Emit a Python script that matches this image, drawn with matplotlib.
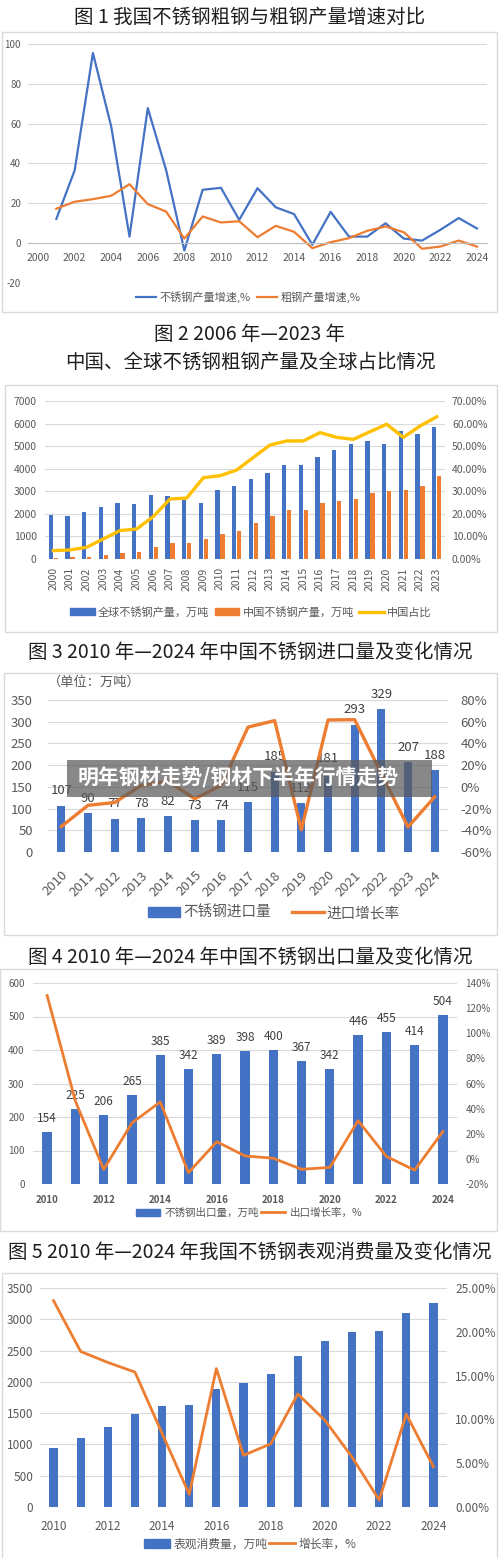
import matplotlib
matplotlib.use('Agg')
import matplotlib.pyplot as plt
from matplotlib.patches import Rectangle, Patch
from matplotlib.lines import Line2D
from matplotlib.ticker import FuncFormatter

plt.rcParams['font.family'] = ['Noto Sans CJK SC', 'DejaVu Sans']
plt.rcParams['axes.unicode_minus'] = False

# ---------------- data ----------------
years1 = list(range(2001, 2025))
ss_growth = [12.2, 36.5, 95.5, 58.6, 3.3, 67.8, 36.8, -3.7, 26.8, 27.8, 11.7, 27.6,
             18.0, 14.6, -0.8, 15.7, 3.3, 3.3, 10.0, 2.3, 1.3, 6.7, 12.6, 7.4]
crude_growth = [17.3, 20.8, 22.1, 23.8, 29.6, 19.6, 15.9, 2.3, 13.4, 10.4, 11.0, 3.0,
                8.7, 5.7, -2.5, 0.5, 2.5, 6.2, 8.4, 5.5, -2.8, -1.7, 1.3, -1.7]

years2 = [str(y) for y in range(2000, 2024)]
global_prod = [1950, 1905, 2068, 2290, 2467, 2422, 2836, 2792, 2614, 2467, 3058, 3235,
               3545, 3811, 4165, 4165, 4505, 4815, 5096, 5229, 5096, 5672, 5539, 5849]
china_prod = [60, 73, 107, 178, 270, 310, 530, 720, 700, 880, 1126, 1250,
              1600, 1900, 2169, 2156, 2494, 2577, 2671, 2940, 3014, 3063, 3240, 3667]
china_share = [3.7, 4.0, 5.2, 8.9, 12.6, 13.3, 18.8, 26.6, 27.0, 36.0, 36.9, 39.4,
               45.0, 50.5, 52.3, 52.3, 56.0, 53.9, 53.0, 56.4, 59.7, 53.9, 58.9, 63.0]

years3 = [str(y) for y in range(2010, 2025)]
imports = [107, 90, 77, 78, 82, 73, 74, 115, 185, 112, 181, 293, 329, 207, 188]
import_growth = [-36.5, -17.0, -14.4, 1.3, 5.1, -11.0, 1.4, 55.0, 61.0, -39.5, 61.6,
                 61.9, 12.3, -37.0, -9.2]

years4 = list(range(2010, 2025))
exports = [154, 225, 206, 265, 385, 342, 389, 398, 400, 367, 342, 446, 455, 414, 504]
export_growth = [130.0, 46.0, -8.4, 28.6, 45.3, -11.0, 13.7, 2.3, 0.5, -8.3, -6.8,
                 30.4, 2.0, -9.0, 21.7]

years5 = list(range(2010, 2025))
consumption = [935, 1101, 1283, 1486, 1614, 1630, 1881, 1988, 2133, 2410, 2656, 2790,
               2817, 3105, 3266]
consumption_growth = [23.55, 17.75, 16.5, 15.4, 8.4, 1.45, 15.8, 5.9, 7.2, 12.9, 9.9,
                      5.7, 0.8, 10.6, 4.6]

titles = ['图 1 我国不锈钢粗钢与粗钢产量增速对比',
          '图 2 2006 年—2023 年',
          '中国、全球不锈钢粗钢产量及全球占比情况',
          '图 3 2010 年—2024 年中国不锈钢进口量及变化情况',
          '图 4 2010 年—2024 年中国不锈钢出口量及变化情况',
          '图 5 2010 年—2024 年我国不锈钢表观消费量及变化情况']

# ---------------- style ----------------
W, H = 500, 1558
BLUE = '#4472C4'
ORANGE = '#ED7D31'
YELLOW = '#FFC000'
GRID = '#D9D9D9'
TXT = '#595959'

fig = plt.figure(figsize=(W / 100, H / 100), dpi=100)
fig.patch.set_facecolor('white')


def fx(x):
    return x / W


def fy(y):
    return 1 - y / H


def px_axes(l, t, r, b):
    return fig.add_axes([l / W, 1 - b / H, (r - l) / W, (b - t) / H])


def panel(l, t, r, b):
    fig.add_artist(Rectangle((fx(l), fy(b)), (r - l) / W, (b - t) / H,
                             transform=fig.transFigure, fill=False,
                             edgecolor='#DADADA', lw=1.0, zorder=-5))


def title(y, s, size=14):
    fig.text(0.5, fy(y), s, ha='center', va='center', fontsize=size, color='#1e1e1e')


def style(ax, grid=True):
    ax.set_facecolor('none')
    for s in ax.spines.values():
        s.set_visible(False)
    ax.tick_params(length=0, colors=TXT)
    if grid:
        ax.grid(axis='y', color=GRID, lw=0.8)
    ax.set_axisbelow(True)


# ---------------- panels & titles ----------------
panel(2, 32, 497, 312)
panel(5, 385, 497, 632)
panel(4, 673, 497, 935)
panel(0, 969, 497, 1231)
panel(2, 1273, 497, 1570)

title(17, titles[0])
title(335, titles[1])
title(362, titles[2])
title(652, titles[3])
title(957, titles[4])
title(1252, titles[5])

# ---------------- chart 1 ----------------
ax1 = px_axes(28, 44, 487, 283)
style(ax1)
ax1.plot(years1, ss_growth, color=BLUE, lw=1.6)
ax1.plot(years1, crude_growth, color=ORANGE, lw=1.6)
ax1.set_ylim(-20, 100)
ax1.set_yticks(range(-20, 101, 20))
ax1.set_xlim(1999.45, 2024.55)
ax1.set_xticks(range(2000, 2025, 2))
ax1.spines['bottom'].set_visible(True)
ax1.spines['bottom'].set_position(('data', 0))
ax1.spines['bottom'].set_color('#BFBFBF')
ax1.tick_params(axis='y', labelsize=7, pad=5)
ax1.tick_params(axis='x', labelsize=7.5, pad=7)
ax1.legend(handles=[Line2D([], [], color=BLUE, lw=1.6), Line2D([], [], color=ORANGE, lw=1.6)],
           labels=['不锈钢产量增速,%', '粗钢产量增速,%'], ncol=2, frameon=False,
           loc='center', bbox_to_anchor=(fx(248), fy(297)), bbox_transform=fig.transFigure,
           fontsize=8, labelcolor=TXT, handlelength=1.8, handletextpad=0.3, columnspacing=0.6)

# ---------------- chart 2 ----------------
ax2 = px_axes(45, 401, 445, 559)
style(ax2)
x2 = list(range(len(years2)))
ax2.bar([i - 0.15 for i in x2], global_prod, width=0.26, color=BLUE)
ax2.bar([i + 0.15 for i in x2], china_prod, width=0.26, color=ORANGE)
ax2.set_xlim(-0.5, len(years2) - 0.5)
ax2.set_ylim(0, 7000)
ax2.set_yticks(range(0, 7001, 1000))
ax2.set_xticks(x2)
ax2.set_xticklabels(years2, rotation=90)
ax2.tick_params(axis='y', labelsize=7.5, pad=6)
ax2.tick_params(axis='x', labelsize=7.5, pad=6)
ax2b = ax2.twinx()
style(ax2b, grid=False)
ax2b.plot(x2, china_share, color=YELLOW, lw=2.4)
ax2b.set_ylim(0, 70)
ax2b.set_yticks(range(0, 71, 10))
ax2b.yaxis.set_major_formatter(FuncFormatter(lambda v, p: f'{v:.2f}%'))
ax2b.tick_params(axis='y', labelsize=7.5, pad=5)
ax2.legend(handles=[Patch(color=BLUE), Patch(color=ORANGE), Line2D([], [], color=YELLOW, lw=2.4)],
           labels=['全球不锈钢产量，万吨', '中国不锈钢产量，万吨', '中国占比'], ncol=3, frameon=False,
           loc='center', bbox_to_anchor=(fx(251), fy(612)), bbox_transform=fig.transFigure,
           fontsize=8, labelcolor=TXT, handlelength=2.2, handleheight=0.7,
           handletextpad=0.3, columnspacing=0.5)

# ---------------- chart 3 ----------------
ax3 = px_axes(48, 700, 448, 852)
style(ax3)
x3 = list(range(len(years3)))
b3 = ax3.bar(x3, imports, width=0.31, color=BLUE)
ax3.bar_label(b3, labels=[str(v) for v in imports], padding=6, fontsize=9.5, color='#404040')
ax3.set_xlim(-0.5, len(years3) - 0.5)
ax3.set_ylim(0, 350)
ax3.set_yticks(range(0, 351, 50))
ax3.set_xticks(x3)
ax3.set_xticklabels(years3)
for lab in ax3.get_xticklabels():
    lab.set_rotation(45)
    lab.set_ha('right')
    lab.set_va('top')
    lab.set_rotation_mode('anchor')
ax3.tick_params(axis='y', labelsize=9.5, pad=11)
ax3.tick_params(axis='x', labelsize=9.5, pad=12)
ax3b = ax3.twinx()
style(ax3b, grid=False)
ax3b.plot(x3, import_growth, color=ORANGE, lw=2.4)
ax3b.set_ylim(-60, 80)
ax3b.set_yticks(range(-60, 81, 20))
ax3b.yaxis.set_major_formatter(FuncFormatter(lambda v, p: f'{v:.0f}%'))
ax3b.tick_params(axis='y', labelsize=9.5, pad=9)
fig.text(fx(48), fy(682), '（单位：万吨）', ha='left', va='center', fontsize=9.5, color=TXT)
ax3.legend(handles=[Patch(color=BLUE), Line2D([], [], color=ORANGE, lw=2.4)],
           labels=['不锈钢进口量', '进口增长率'], ncol=2, frameon=False,
           loc='center', bbox_to_anchor=(fx(274), fy(913)), bbox_transform=fig.transFigure,
           fontsize=10.5, labelcolor=TXT, handlelength=2.2, handleheight=0.7,
           handletextpad=0.2, columnspacing=1.4)

# watermark band
fig.add_artist(Rectangle((fx(67), fy(797)), (432 - 67) / W, (797 - 760) / H,
                         transform=fig.transFigure, facecolor='#5a5a5a', alpha=0.72,
                         edgecolor='none', zorder=20))
fig.text(fx(78), fy(778), '明年钢材走势/钢材下半年行情走势', ha='left', va='center',
         fontsize=15, fontweight='bold', color='white', zorder=21)

# ---------------- chart 4 ----------------
ax4 = px_axes(33, 983, 457, 1184)
style(ax4)
b4 = ax4.bar(years4, exports, width=0.33, color=BLUE)
ax4.bar_label(b4, labels=[str(v) for v in exports], padding=5, fontsize=8.5, color='#404040')
ax4.set_xlim(2009.5, 2024.5)
ax4.set_ylim(0, 600)
ax4.set_yticks(range(0, 601, 100))
ax4.set_xticks(range(2010, 2025, 2))
ax4.tick_params(axis='y', labelsize=7, pad=6)
ax4.tick_params(axis='x', labelsize=7, pad=8)
for lab in ax4.get_xticklabels():
    lab.set_fontweight('bold')
ax4b = ax4.twinx()
style(ax4b, grid=False)
ax4b.plot(years4, export_growth, color=ORANGE, lw=2.0)
ax4b.set_ylim(-20, 140)
ax4b.set_yticks(range(-20, 141, 20))
ax4b.yaxis.set_major_formatter(FuncFormatter(lambda v, p: f'{v:.0f}%'))
ax4b.tick_params(axis='y', labelsize=7, pad=6)
ax4.legend(handles=[Patch(color=BLUE), Line2D([], [], color=ORANGE, lw=2.0)],
           labels=['不锈钢出口量，万吨', '出口增长率，%'], ncol=2, frameon=False,
           loc='center', bbox_to_anchor=(fx(249), fy(1213)), bbox_transform=fig.transFigure,
           fontsize=7.6, labelcolor=TXT, handlelength=2.3, handleheight=0.7,
           handletextpad=0.4, columnspacing=0.2)

# ---------------- chart 5 ----------------
ax5 = px_axes(40, 1288, 447, 1507)
style(ax5)
ax5.bar(years5, consumption, width=0.3, color=BLUE)
ax5.set_xlim(2009.5, 2024.5)
ax5.set_ylim(0, 3500)
ax5.set_yticks(range(0, 3501, 500))
ax5.set_xticks(range(2010, 2025, 2))
ax5.tick_params(axis='y', labelsize=8.5, pad=5)
ax5.tick_params(axis='x', labelsize=8.5, pad=9)
ax5b = ax5.twinx()
style(ax5b, grid=False)
ax5b.plot(years5, consumption_growth, color=ORANGE, lw=2.0)
ax5b.set_ylim(0, 25)
ax5b.set_yticks(range(0, 26, 5))
ax5b.yaxis.set_major_formatter(FuncFormatter(lambda v, p: f'{v:.2f}%'))
ax5b.tick_params(axis='y', labelsize=8.5, pad=6)
ax5.legend(handles=[Patch(color=BLUE), Line2D([], [], color=ORANGE, lw=2.0)],
           labels=['表观消费量，万吨', '增长率，%'], ncol=2, frameon=False,
           loc='center', bbox_to_anchor=(fx(250), fy(1544)), bbox_transform=fig.transFigure,
           fontsize=8.5, labelcolor=TXT, handlelength=2.2, handleheight=0.7,
           handletextpad=0.3, columnspacing=0.1)

fig.savefig('out.png', dpi=100, facecolor='white')
